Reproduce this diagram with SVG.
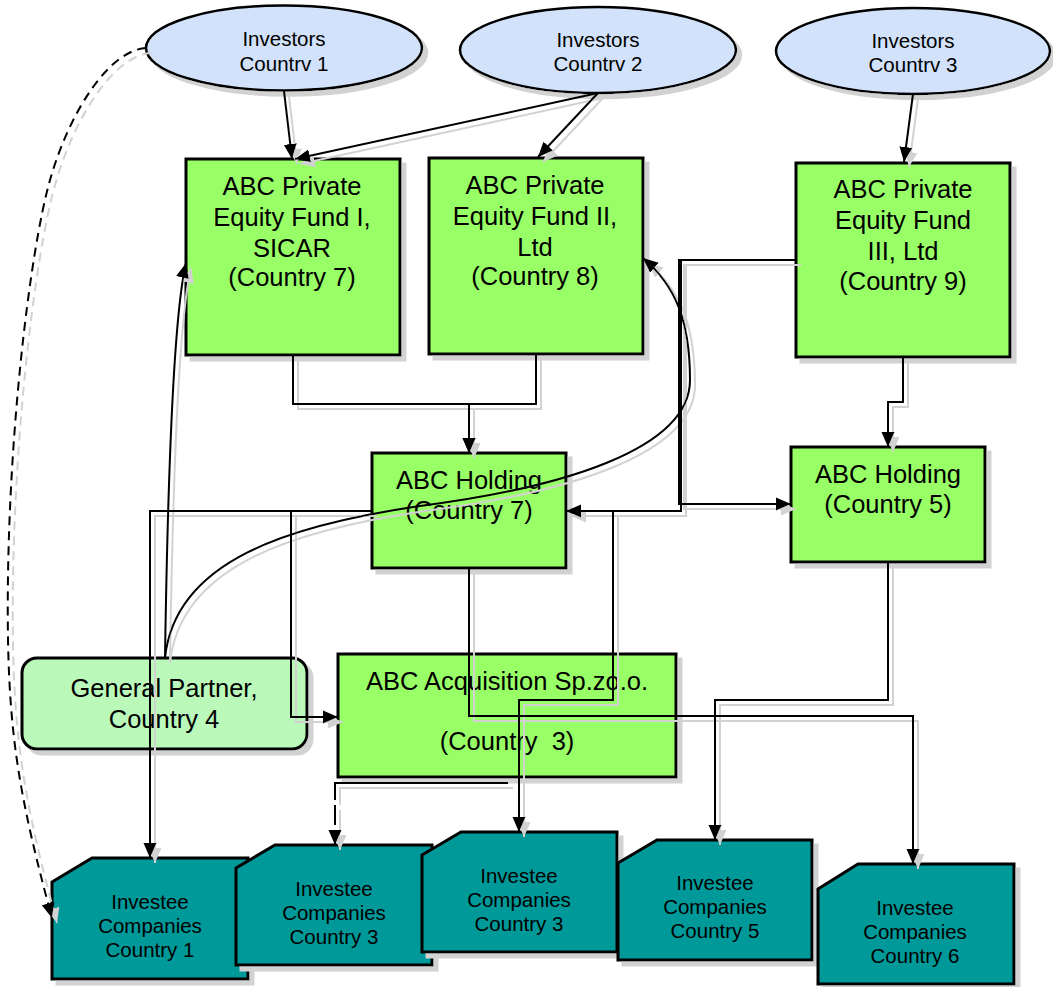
<svg xmlns="http://www.w3.org/2000/svg" width="1053" height="987" viewBox="0 0 1053 987">
<defs>
<style>
.inv ellipse{fill:#D2E2FA;stroke:#000;stroke-width:2.5}
.box rect{fill:#99FF66;stroke:#000;stroke-width:3}
.gp rect{fill:#BBF9BB;stroke:#000;stroke-width:3}
.ic path{fill:#009999;stroke:#000;stroke-width:3}
text{font-family:"Liberation Sans",Arial,sans-serif;fill:#000;text-anchor:middle}
.t20{font-size:20.5px}
.t25{font-size:25.5px}
.c path{fill:none;stroke:#000;stroke-width:2;marker-end:url(#arr)}
.dash{stroke-dasharray:9 6}
</style>
<filter id="sh" x="-10%" y="-10%" width="125%" height="125%">
<feFlood flood-color="#d2d2d2"/>
<feComposite in2="SourceAlpha" operator="in"/>
<feOffset dx="5" dy="5"/>
<feMerge><feMergeNode/><feMergeNode in="SourceGraphic"/></feMerge>
</filter>
<marker id="arr" markerUnits="userSpaceOnUse" markerWidth="15" markerHeight="14" viewBox="0 0 15 14" refX="15" refY="7" orient="auto">
<path d="M0,0.5 L15,7 L0,13.5 Z" fill="#000"/>
</marker>
</defs>
<rect width="1053" height="987" fill="#fff"/>

<g id="inv1" class="inv"><ellipse cx="284" cy="48" rx="138" ry="42.5" filter="url(#sh)"/><text class="t20" x="284" y="46">Investors</text><text class="t20" x="284" y="71">Countrv 1</text></g>
<g id="inv2" class="inv"><ellipse cx="598" cy="50" rx="138" ry="43" filter="url(#sh)"/><text class="t20" x="598" y="47">Investors</text><text class="t20" x="598" y="71">Countrv 2</text></g>
<g id="inv3" class="inv"><ellipse cx="913" cy="51" rx="137" ry="43" filter="url(#sh)"/><text class="t20" x="913" y="48">Investors</text><text class="t20" x="913" y="72">Countrv 3</text></g>

<g id="fund1" class="box"><rect x="186" y="159" width="214" height="196" filter="url(#sh)"/><text class="t25" x="292" y="195">ABC Private</text><text class="t25" x="292" y="226">Equity Fund I,</text><text class="t25" x="292" y="257">SICAR</text><text class="t25" x="292" y="286">(Country 7)</text></g>
<g id="fund2" class="box"><rect x="429" y="158" width="214" height="196" filter="url(#sh)"/><text class="t25" x="535" y="194">ABC Private</text><text class="t25" x="535" y="225">Equity Fund II,</text><text class="t25" x="535" y="256">Ltd</text><text class="t25" x="535" y="285">(Country 8)</text></g>
<g id="fund3" class="box"><rect x="796" y="163" width="214" height="194" filter="url(#sh)"/><text class="t25" x="903" y="198">ABC Private</text><text class="t25" x="903" y="229">Equity Fund</text><text class="t25" x="903" y="260">III, Ltd</text><text class="t25" x="903" y="290">(Country 9)</text></g>

<g id="hold7" class="box"><rect x="372" y="453" width="194" height="115" filter="url(#sh)"/><text class="t25" x="469" y="489">ABC Holding</text><text class="t25" x="469" y="519">(Country 7)</text></g>
<g id="hold5" class="box"><rect x="791" y="447" width="194" height="115" filter="url(#sh)"/><text class="t25" x="888" y="483">ABC Holding</text><text class="t25" x="888" y="513">(Country 5)</text></g>

<g id="gp" class="gp"><rect x="22" y="658" width="285" height="91" rx="15" ry="15" filter="url(#sh)"/><text class="t25" x="164" y="697">General Partner,</text><text class="t25" x="164" y="728">Country 4</text></g>
<g id="acq" class="box"><rect x="338" y="654" width="338" height="123" filter="url(#sh)"/><text class="t25" x="507" y="690">ABC Acquisition Sp.zo.o.</text><text class="t25" x="507" y="750" xml:space="preserve">(Country  3)</text></g>

<g id="ic1" class="ic"><path d="M52,882 L92,858 H248 V979 H52 Z" filter="url(#sh)"/><text class="t20" x="150" y="909">Investee</text><text class="t20" x="150" y="933">Companies</text><text class="t20" x="150" y="957">Country 1</text></g>
<g id="ic2" class="ic"><path d="M236,868 L275,845 H432 V965 H236 Z" filter="url(#sh)"/><text class="t20" x="334" y="896">Investee</text><text class="t20" x="334" y="920">Companies</text><text class="t20" x="334" y="944">Country 3</text></g>
<g id="ic3" class="ic"><path d="M422,855 L461,832 H617 V952 H422 Z" filter="url(#sh)"/><text class="t20" x="519" y="883">Investee</text><text class="t20" x="519" y="907">Companies</text><text class="t20" x="519" y="931">Country 3</text></g>
<g id="ic4" class="ic"><path d="M618,863 L657,840 H812 V960 H618 Z" filter="url(#sh)"/><text class="t20" x="715" y="890">Investee</text><text class="t20" x="715" y="914">Companies</text><text class="t20" x="715" y="938">Country 5</text></g>
<g id="ic5" class="ic"><path d="M818,889 L858,864 H1014 V984 H818 Z" filter="url(#sh)"/><text class="t20" x="915" y="915">Investee</text><text class="t20" x="915" y="939">Companies</text><text class="t20" x="915" y="963">Country 6</text></g>

<g id="connectors" class="c" filter="url(#sh)">
<path d="M284,91 L292,159"/>
<path d="M598,93 L295,159"/>
<path d="M598,93 L538,157"/>
<path d="M913,94 L904,162"/>
<path class="dash" d="M146,48 C110,50 70,110 50,180 C30,250 5,450 8,640 C10,740 20,800 52,918"/>
<path d="M293,356 V404 H469 V453"/>
<path d="M536,354 V404 H469 V453"/>
<path d="M903,357 V402 H888 V447"/>
<path d="M796,260 H681 V511 H566"/>
<path d="M796,260 H679 V504 H791"/>
<path d="M796,260 H681 V511 H613 V700 H519 V832"/>
<path d="M165,658 C175,560 290,525 420,506 C560,488 690,450 690,380 C690,320 675,285 643,258"/>
<path d="M165,658 Q170,330 186,263"/>
<path d="M372,511 H150 V858"/>
<path d="M372,511 H291 V717 H338"/>
<path d="M469,568 V716 H913 V864"/>
<path d="M888,562 V700 H715 V840"/>
<path d="M508,783 H335 V845" stroke-dasharray="190 5 20 5 80"/>
</g>
</svg>
